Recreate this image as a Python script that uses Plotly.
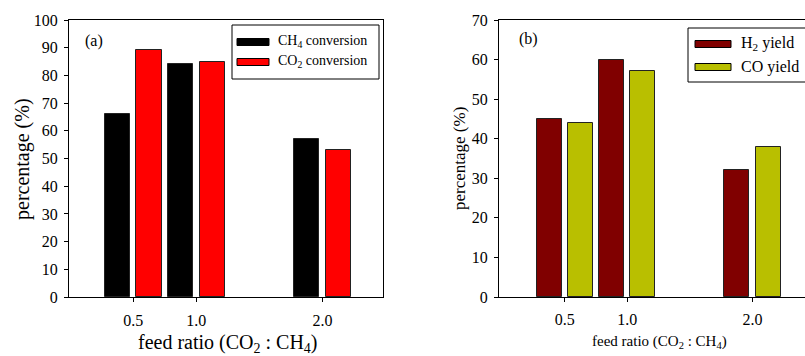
import plotly.graph_objects as go

W, H = 805, 356

# ---- data ----
feed_ratio = [0.5, 1.0, 2.0]
tick_labels = ["0.5", "1.0", "2.0"]
ch4_conversion = [66, 84, 57]
co2_conversion = [89, 85, 53]
h2_yield = [45, 60, 32]
co_yield = [44, 57, 38]

FONT = "Liberation Serif"
BLACK = "#000000"
RED = "#FF0000"
DARKRED = "#800000"
OLIVE = "#B9BF00"


def px(x):
    return x / W


def py(y):
    return 1 - y / H


fig = go.Figure()

bar_w = 0.2
common = dict(width=bar_w, marker_line=dict(color="#222222", width=1), showlegend=False)
fig.add_trace(go.Bar(x=feed_ratio, y=ch4_conversion, offset=-0.225, marker_color=BLACK,
                     xaxis="x", yaxis="y", **common))
fig.add_trace(go.Bar(x=feed_ratio, y=co2_conversion, offset=0.025, marker_color=RED,
                     xaxis="x", yaxis="y", **common))
fig.add_trace(go.Bar(x=feed_ratio, y=h2_yield, offset=-0.225, marker_color=DARKRED,
                     xaxis="x2", yaxis="y2", **common))
fig.add_trace(go.Bar(x=feed_ratio, y=co_yield, offset=0.025, marker_color=OLIVE,
                     xaxis="x2", yaxis="y2", **common))

tickfont = dict(family=FONT, size=16, color="black")
ydom = [py(297), py(20)]

axis_common = dict(showline=True, linecolor="black", linewidth=1, ticks="outside",
                   ticklen=4, tickcolor="black", showgrid=False, zeroline=False,
                   tickfont=tickfont, automargin=False)

fig.update_layout(
    width=W, height=H,
    margin=dict(l=0, r=0, t=0, b=0, autoexpand=False),
    paper_bgcolor="white", plot_bgcolor="white",
    bargap=0,
    xaxis=dict(domain=[px(69), px(383)], range=[-0.01, 2.48], tickvals=feed_ratio,
               ticktext=tick_labels, mirror=True, anchor="y", ticklabelstandoff=5,
               **axis_common),
    yaxis=dict(domain=ydom, range=[0, 100], dtick=10, mirror=True, anchor="x",
               ticklabelstandoff=3, **axis_common),
    xaxis2=dict(domain=[px(499), 1.0], range=[-0.025, 2.42], tickvals=feed_ratio,
                ticktext=tick_labels, mirror=True, anchor="y2", ticklabelstandoff=4,
                **axis_common),
    yaxis2=dict(domain=ydom, range=[0, 70], dtick=10, mirror=False, anchor="x2",
                ticklabelstandoff=3, **axis_common),
)

annotations = []
shapes = []


def text(x, y, s, size, xanchor="left", angle=0):
    annotations.append(dict(x=px(x), y=py(y), xref="paper", yref="paper", text=s,
                            showarrow=False, xanchor=xanchor, yanchor="middle",
                            textangle=angle,
                            font=dict(family=FONT, size=size, color="black")))


# axis titles
text(23, 159, "percentage (%)", 20, xanchor="center", angle=-90)
text(228, 343, "feed ratio (CO<sub>2</sub> : CH<sub>4</sub>)", 20, xanchor="center")
text(460, 159, "percentage (%)", 17, xanchor="center", angle=-90)
text(659, 342, "feed ratio (CO<sub>2</sub> : CH<sub>4</sub>)", 15, xanchor="center")

# panel labels
text(83, 41, "(a)", 16)
text(517, 39, "(b)", 16)

# legend (a)
shapes.append(dict(type="rect", xref="paper", yref="paper", x0=px(232), x1=px(379),
                   y0=py(79), y1=py(25), line=dict(color="black", width=1),
                   fillcolor="white"))
for yc, col, lab in [(42, BLACK, "CH<sub>4</sub> conversion"),
                     (62, RED, "CO<sub>2</sub> conversion")]:
    shapes.append(dict(type="rect", xref="paper", yref="paper", x0=px(237), x1=px(269),
                       y0=py(yc + 3.5), y1=py(yc - 3.5), fillcolor=col,
                       line=dict(color="black", width=1)))
    text(276, yc, lab, 14)

# legend (b)
shapes.append(dict(type="rect", xref="paper", yref="paper", x0=px(688), x1=1.02,
                   y0=py(82), y1=py(28), line=dict(color="black", width=1),
                   fillcolor="white"))
for yc, col, lab in [(44, DARKRED, "H<sub>2</sub> yield"),
                     (67, OLIVE, "CO yield")]:
    shapes.append(dict(type="rect", xref="paper", yref="paper", x0=px(695), x1=px(731),
                       y0=py(yc + 3.5), y1=py(yc - 3.5), fillcolor=col,
                       line=dict(color="black", width=1)))
    text(739, yc, lab, 16)

fig.update_layout(annotations=annotations, shapes=shapes)

fig.write_html("out.html", config={"displayModeBar": False},
               post_script="document.body.style.margin='0';document.body.style.overflow='hidden';")
